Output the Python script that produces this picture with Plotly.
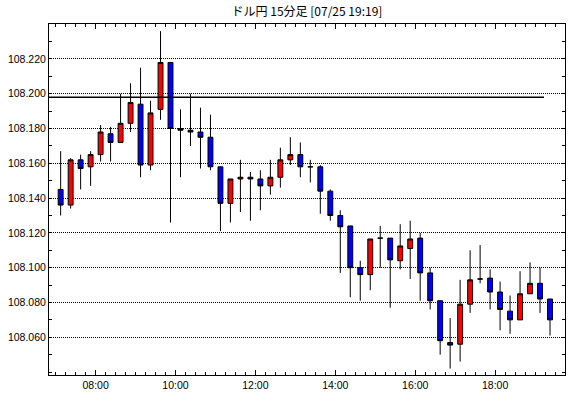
import pandas as pd
import plotly.graph_objects as go

title_text = "ドル円 15分足 [07/25 19:19]"
start_time = "2019-07-25 07:00"
n_bars = 50

open_ = [108.145, 108.136, 108.162, 108.158, 108.165, 108.177, 108.172, 108.183, 108.194, 108.159,
         108.191, 108.218, 108.180, 108.179, 108.178, 108.175, 108.158, 108.137, 108.151, 108.152,
         108.151, 108.147, 108.152, 108.162, 108.165, 108.158, 108.158, 108.144, 108.130, 108.124,
         108.100, 108.096, 108.117, 108.117, 108.104, 108.111, 108.117, 108.097, 108.081, 108.057,
         108.056, 108.079, 108.0935, 108.094, 108.086, 108.075, 108.070, 108.085, 108.091, 108.082]
high_ = [108.167, 108.163, 108.165, 108.167, 108.182, 108.181, 108.200, 108.206, 108.215, 108.196,
         108.236, 108.218, 108.191, 108.200, 108.192, 108.188, 108.158, 108.151, 108.162, 108.155,
         108.156, 108.162, 108.169, 108.175, 108.172, 108.162, 108.159, 108.145, 108.133, 108.124,
         108.104, 108.1165, 108.124, 108.117, 108.125, 108.127, 108.120, 108.100, 108.081, 108.071,
         108.093, 108.110, 108.113, 108.099, 108.092, 108.084, 108.098, 108.103, 108.100, 108.082]
low_ = [108.130, 108.134, 108.145, 108.147, 108.161, 108.161, 108.172, 108.178, 108.152, 108.156,
        108.185, 108.126, 108.152, 108.170, 108.157, 108.156, 108.121, 108.126, 108.132, 108.127,
        108.133, 108.142, 108.146, 108.159, 108.152, 108.149, 108.131, 108.127, 108.097, 108.083,
        108.081, 108.087, 108.100, 108.077, 108.099, 108.0935, 108.081, 108.076, 108.050, 108.042,
        108.046, 108.074, 108.091, 108.076, 108.064, 108.062, 108.070, 108.085, 108.074, 108.061]
close_ = [108.136, 108.162, 108.157, 108.165, 108.178, 108.172, 108.183, 108.195, 108.159, 108.189,
          108.218, 108.180, 108.179, 108.178, 108.175, 108.158, 108.137, 108.151, 108.152, 108.151,
          108.147, 108.152, 108.162, 108.165, 108.158, 108.158, 108.144, 108.130, 108.1235, 108.100,
          108.096, 108.1165, 108.117, 108.1045, 108.1125, 108.1165, 108.097, 108.081, 108.058, 108.0555,
          108.079, 108.093, 108.0935, 108.086, 108.076, 108.070, 108.085, 108.091, 108.082, 108.070]

ref_level = 108.198
ref_line_start = "2019-07-25 06:50"
ref_line_end = "2019-07-25 19:13:30"

x_range = ["2019-07-25 06:50", "2019-07-25 19:45"]
y_range = [108.0383, 108.2401]
y_tickvals = [108.06, 108.08, 108.10, 108.12, 108.14, 108.16, 108.18, 108.20, 108.22]
y_ticktext = ["108.060", "108.080", "108.100", "108.120", "108.140", "108.160", "108.180", "108.200", "108.220"]

times = pd.date_range(start_time, periods=n_bars, freq="15min") + pd.Timedelta(minutes=7.5)

fig = go.Figure()
fig.add_trace(go.Candlestick(
    x=times, open=open_, high=high_, low=low_, close=close_,
    increasing=dict(fillcolor="#ff0000", line=dict(color="#000000", width=1)),
    decreasing=dict(fillcolor="#0000ff", line=dict(color="#000000", width=1)),
    whiskerwidth=0, showlegend=False, hoverinfo="skip",
))
fig.add_trace(go.Scatter(
    x=[ref_line_start, ref_line_end], y=[ref_level, ref_level],
    mode="lines", line=dict(color="#000000", width=1.3), showlegend=False, hoverinfo="skip",
))

font_family = "Liberation Sans"
fig.update_layout(
    width=570, height=398,
    margin=dict(l=49, r=5, t=24, b=23, autoexpand=False),
    paper_bgcolor="white", plot_bgcolor="white",
    title=dict(text=title_text, x=(49 + 565) / 2 / 570, xanchor="center", y=1 - 12 / 398, yanchor="middle",
               font=dict(family="Noto Sans CJK JP", size=12, color="black"), automargin=False),
    font=dict(family=font_family, size=10, color="black"),
    showlegend=False,
    boxgap=0.3,
)
fig.update_xaxes(
    type="date", range=x_range, rangeslider=dict(visible=False), automargin=False,
    showline=True, linecolor="black", linewidth=1, mirror="ticks",
    ticks="inside", ticklen=5, tickcolor="black", tickwidth=1,
    dtick=7200000, tick0="2019-07-25 00:00", tickformat="%H:%M",
    tickfont=dict(family=font_family, size=10.5, color="black"),
    minor=dict(dtick=900000, ticks="inside", ticklen=3, tickcolor="black", showgrid=False),
    showgrid=False, zeroline=False,
)
fig.update_yaxes(
    range=y_range, automargin=False,
    showline=True, linecolor="black", linewidth=1, mirror="ticks",
    ticks="inside", ticklen=3, tickcolor="black", tickwidth=1,
    tickvals=y_tickvals, ticktext=y_ticktext,
    tickfont=dict(family=font_family, size=10.5, color="black"),
    minor=dict(dtick=0.01, tick0=108.0, ticks="inside", ticklen=3, tickcolor="black", showgrid=False),
    showgrid=True, gridcolor="black", gridwidth=1, griddash="1px,1px",
    zeroline=False,
)

fig.write_html("out.html", config={"displayModeBar": False, "staticPlot": True},
               post_script="document.body.style.margin='0';document.body.style.padding='0';")
